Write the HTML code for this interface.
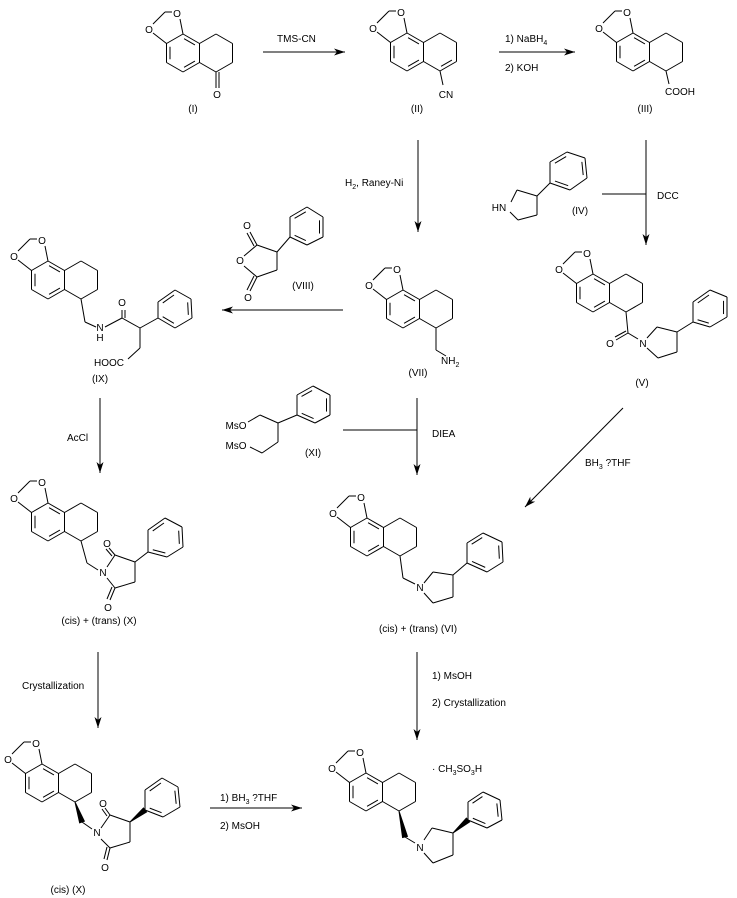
<!DOCTYPE html>
<html><head><meta charset="utf-8"><style>
html,body{margin:0;padding:0;background:#fff;}
svg{display:block;}
text{font-family:"Liberation Sans",sans-serif;font-size:10px;fill:#000;}
</style></head><body>
<svg id="s" width="737" height="898" viewBox="0 0 737 898" xmlns="http://www.w3.org/2000/svg">
<defs>
<marker id="ah" markerWidth="12" markerHeight="8" refX="11" refY="4" orient="auto" markerUnits="userSpaceOnUse">
<path d="M0,0.5 L11,4 L0,7.5 L3,4 Z" fill="#000"/>
</marker>
</defs>
<g id="g" stroke="#000" stroke-width="1" fill="none"></g>
<g id="arr" stroke="#000" stroke-width="1" fill="none">
<line x1="263" y1="52" x2="345" y2="52" marker-end="url(#ah)"/>
<line x1="499" y1="52" x2="575" y2="52" marker-end="url(#ah)"/>
<line x1="418" y1="140" x2="418" y2="232" marker-end="url(#ah)"/>
<line x1="646" y1="140" x2="646" y2="245" marker-end="url(#ah)"/>
<line x1="602" y1="194" x2="646" y2="194"/>
<line x1="343" y1="310" x2="222" y2="310" marker-end="url(#ah)"/>
<line x1="100" y1="398" x2="100" y2="473" marker-end="url(#ah)"/>
<line x1="417" y1="398" x2="417" y2="475" marker-end="url(#ah)"/>
<line x1="343" y1="430" x2="417" y2="430"/>
<line x1="623" y1="408" x2="525" y2="507" marker-end="url(#ah)"/>
<line x1="98" y1="652" x2="98" y2="728" marker-end="url(#ah)"/>
<line x1="417" y1="652" x2="417" y2="740" marker-end="url(#ah)"/>
<line x1="210" y1="808" x2="302" y2="808" marker-end="url(#ah)"/>
</g>
<text x="277" y="42">TMS-CN</text>
<text x="505" y="42">1) NaBH<tspan font-size="7" dy="3">4</tspan></text>
<text x="505" y="71">2) KOH</text>
<text x="345" y="186">H<tspan font-size="7" dy="3">2</tspan><tspan dy="-3">, Raney-Ni</tspan></text>
<text x="657" y="199">DCC</text>
<text x="67" y="441">AcCl</text>
<text x="432" y="437">DIEA</text>
<text x="585" y="466">BH<tspan font-size="7" dy="3">3</tspan><tspan dy="-3"> ?THF</tspan></text>
<text x="22" y="689">Crystallization</text>
<text x="432" y="679">1) MsOH</text>
<text x="432" y="706">2) Crystallization</text>
<text x="220" y="801">1) BH<tspan font-size="7" dy="3">3</tspan><tspan dy="-3"> ?THF</tspan></text>
<text x="220" y="829">2) MsOH</text>
<text x="193" y="112" text-anchor="middle">(I)</text>
<text x="417" y="112" text-anchor="middle">(II)</text>
<text x="645" y="112" text-anchor="middle">(III)</text>
<text x="580" y="214" text-anchor="middle">(IV)</text>
<text x="303" y="289" text-anchor="middle">(VIII)</text>
<text x="418" y="376" text-anchor="middle">(VII)</text>
<text x="100" y="382" text-anchor="middle">(IX)</text>
<text x="642" y="386" text-anchor="middle">(V)</text>
<text x="313" y="456" text-anchor="middle">(XI)</text>
<text x="99" y="624" text-anchor="middle">(cis) + (trans)  (X)</text>
<text x="418" y="632" text-anchor="middle">(cis) + (trans) (VI)</text>
<text x="68" y="893" text-anchor="middle">(cis) (X)</text>
<text x="217" y="98" text-anchor="middle">O</text>
<text x="446" y="98" text-anchor="middle">CN</text>
<text x="680" y="95" text-anchor="middle">COOH</text>
<text x="441" y="364">NH<tspan font-size="7" dy="3">2</tspan></text>
<text x="499" y="211" text-anchor="middle">HN</text>
<text x="247" y="229" text-anchor="middle">O</text>
<text x="240" y="264" text-anchor="middle">O</text>
<text x="248" y="301" text-anchor="middle">O</text>
<text x="122" y="306" text-anchor="middle">O</text>
<text x="100" y="331" text-anchor="middle">N</text>
<text x="100" y="341" text-anchor="middle">H</text>
<text x="109" y="366" text-anchor="middle">HOOC</text>
<text x="610" y="347" text-anchor="middle">O</text>
<text x="643" y="347" text-anchor="middle">N</text>
<text x="236" y="429" text-anchor="middle">MsO</text>
<text x="236" y="449" text-anchor="middle">MsO</text>
<text x="107" y="547" text-anchor="middle">O</text>
<text x="103" y="576" text-anchor="middle">N</text>
<text x="108" y="611" text-anchor="middle">O</text>
<text x="420" y="591" text-anchor="middle">N</text>
<text x="103" y="807" text-anchor="middle">O</text>
<text x="97" y="836" text-anchor="middle">N</text>
<text x="105" y="871" text-anchor="middle">O</text>
<text x="420" y="851" text-anchor="middle">N</text>
<text x="432" y="772">· CH<tspan font-size="7" dy="3">3</tspan><tspan dy="-3">SO</tspan><tspan font-size="7" dy="3">3</tspan><tspan dy="-3">H</tspan></text>
<text x="177" y="17" text-anchor="middle">O</text><text x="149" y="33" text-anchor="middle">O</text>
<text x="401" y="16" text-anchor="middle">O</text><text x="373" y="32" text-anchor="middle">O</text>
<text x="627" y="16" text-anchor="middle">O</text><text x="599" y="32" text-anchor="middle">O</text>
<text x="397" y="273" text-anchor="middle">O</text><text x="369" y="289" text-anchor="middle">O</text>
<text x="587" y="257" text-anchor="middle">O</text><text x="559" y="273" text-anchor="middle">O</text>
<text x="42" y="244" text-anchor="middle">O</text><text x="14" y="260" text-anchor="middle">O</text>
<text x="42" y="486" text-anchor="middle">O</text><text x="14" y="502" text-anchor="middle">O</text>
<text x="361" y="501" text-anchor="middle">O</text><text x="333" y="517" text-anchor="middle">O</text>
<text x="36" y="747" text-anchor="middle">O</text><text x="8" y="763" text-anchor="middle">O</text>
<text x="360" y="756" text-anchor="middle">O</text><text x="332" y="772" text-anchor="middle">O</text>
</svg>
<script>
var g=document.getElementById('g'),NS='http://www.w3.org/2000/svg';
function L(a,b,c,d){var e=document.createElementNS(NS,'line');e.setAttribute('x1',a);e.setAttribute('y1',b);e.setAttribute('x2',c);e.setAttribute('y2',d);g.appendChild(e);}
function P(pts){for(var i=0;i<pts.length-1;i++)L(pts[i][0],pts[i][1],pts[i+1][0],pts[i+1][1]);}
function inner(p,q,cx,cy){var mx=(p[0]+q[0])/2,my=(p[1]+q[1])/2,dx=cx-mx,dy=cy-my,d=Math.hypot(dx,dy),o=3.5;var ox=dx/d*o,oy=dy/d*o;var s=0.17;
L(p[0]+(q[0]-p[0])*s+ox,p[1]+(q[1]-p[1])*s+oy,q[0]-(q[0]-p[0])*s+ox,q[1]-(q[1]-p[1])*s+oy);}
function W(x1,y1,x2,y2){var dx=x2-x1,dy=y2-y1,d=Math.hypot(dx,dy),nx=-dy/d*2.5,ny=dx/d*2.5;var e=document.createElementNS(NS,'polygon');e.setAttribute('points',x1+','+y1+' '+(x2+nx)+','+(y2+ny)+' '+(x2-nx)+','+(y2-ny));e.setAttribute('fill','#000');g.appendChild(e);}
function core(cx,cy,ene){
var a=[cx,cy-19],b=[cx+16.5,cy-9.5],c=[cx+16.5,cy+9.5],d=[cx,cy+19],e=[cx-16.5,cy+9.5],f=[cx-16.5,cy-9.5];
P([a,b,c,d,e,f,a]);inner(a,b,cx,cy);inner(c,d,cx,cy);inner(e,f,cx,cy);
var gg=[cx+33,cy-19],h=[cx+49.5,cy-9.5],i=[cx+49.5,cy+9.5],j=[cx+33,cy+19];
P([b,gg,h,i,j,c]);if(ene)inner(i,j,cx+33,cy);
L(cx,cy-19,cx-3,cy-34);L(cx-11,cy-41,cx-18,cy-41);L(cx-18,cy-41,cx-30,cy-29);L(cx-30,cy-20,cx-16.5,cy-9.5);
return j;}
function ph(p){P(p.concat([p[0]]));var cx=0,cy=0;p.forEach(function(q){cx+=q[0];cy+=q[1]});cx/=6;cy/=6;
inner(p[0],p[1],cx,cy);inner(p[2],p[3],cx,cy);inner(p[4],p[5],cx,cy);}
core(183,53);L(216,72,216,88);L(219,72,219,88);
core(407,52,true);L(440,71,443,85);
core(633,52);L(666,71,669,84);
core(403,309);P([[436,328],[436,350],[446,356]]);
core(593,293);L(626,312,628,333);L(628,333,616,340);L(626,331,615,337);L(628,333,638,339);
P([[647,338],[657,327],[677,332],[677,352],[658,358],[647,348]]);L(677,332,693,322);
ph([[693,302],[710,290],[727,297],[727,317],[710,327],[693,322]]);
P([[511,202],[517,190],[537,196],[537,215],[518,220],[510,212]]);L(537,196,550,183);
ph([[550,162],[567,152],[585,158],[587,178],[570,190],[550,183]]);
P([[244,256],[257,245],[277,252],[277,270],[257,277],[244,266]]);L(257,245,250,232);L(254,246,247,233);L(257,277,250,291);L(254,276,247,290);
L(277,252,290,237);ph([[290,217],[307,207],[323,217],[323,237],[307,245],[290,237]]);
core(48,280);P([[81,299],[85,322],[96,327]]);P([[105,327],[122,318],[140,328],[158,318]]);L(122,318,122,310);L(125,318,125,310);
P([[140,328],[140,348],[128,359]]);
ph([[158,302],[175,290],[191,299],[192,318],[175,328],[158,318]]);
P([[248,422],[260,415],[278,423],[297,415]]);P([[278,423],[278,442],[262,453],[250,447]]);
ph([[297,395],[313,386],[330,395],[330,415],[315,423],[297,415]]);
core(48,522);P([[81,541],[87,563],[98,570]]);P([[107,567],[115,555],[135,562],[135,582],[115,588],[107,578]]);
L(115,555,109,548);L(112,556,106,549);L(115,588,110,600);L(112,587,107,599);L(135,562,148,552);
ph([[148,530],[165,518],[182,527],[183,547],[167,557],[148,552]]);
core(367,537);P([[400,556],[403,578],[415,584]]);P([[424,583],[433,572],[453,575],[453,597],[433,603],[424,593]]);L(453,575,467,563);
ph([[467,543],[483,533],[502,542],[503,562],[487,572],[467,563]]);
core(42,783);W(75,802,82,822);L(82,822,92,829);P([[101,828],[110,815],[130,822],[130,842],[110,848],[101,839]]);
L(110,815,105,808);L(107,816,102,809);L(110,848,107,860);L(107,847,104,859);W(130,822,145,810);
ph([[145,790],[162,778],[178,787],[180,807],[163,817],[145,810]]);
core(366,792);W(399,811,405,837);L(405,837,415,843);P([[424,840],[432,828],[453,833],[453,855],[433,863],[424,853]]);W(453,833,468,820);
ph([[468,802],[483,792],[500,800],[502,820],[487,828],[468,820]]);
</script>
</body></html>
